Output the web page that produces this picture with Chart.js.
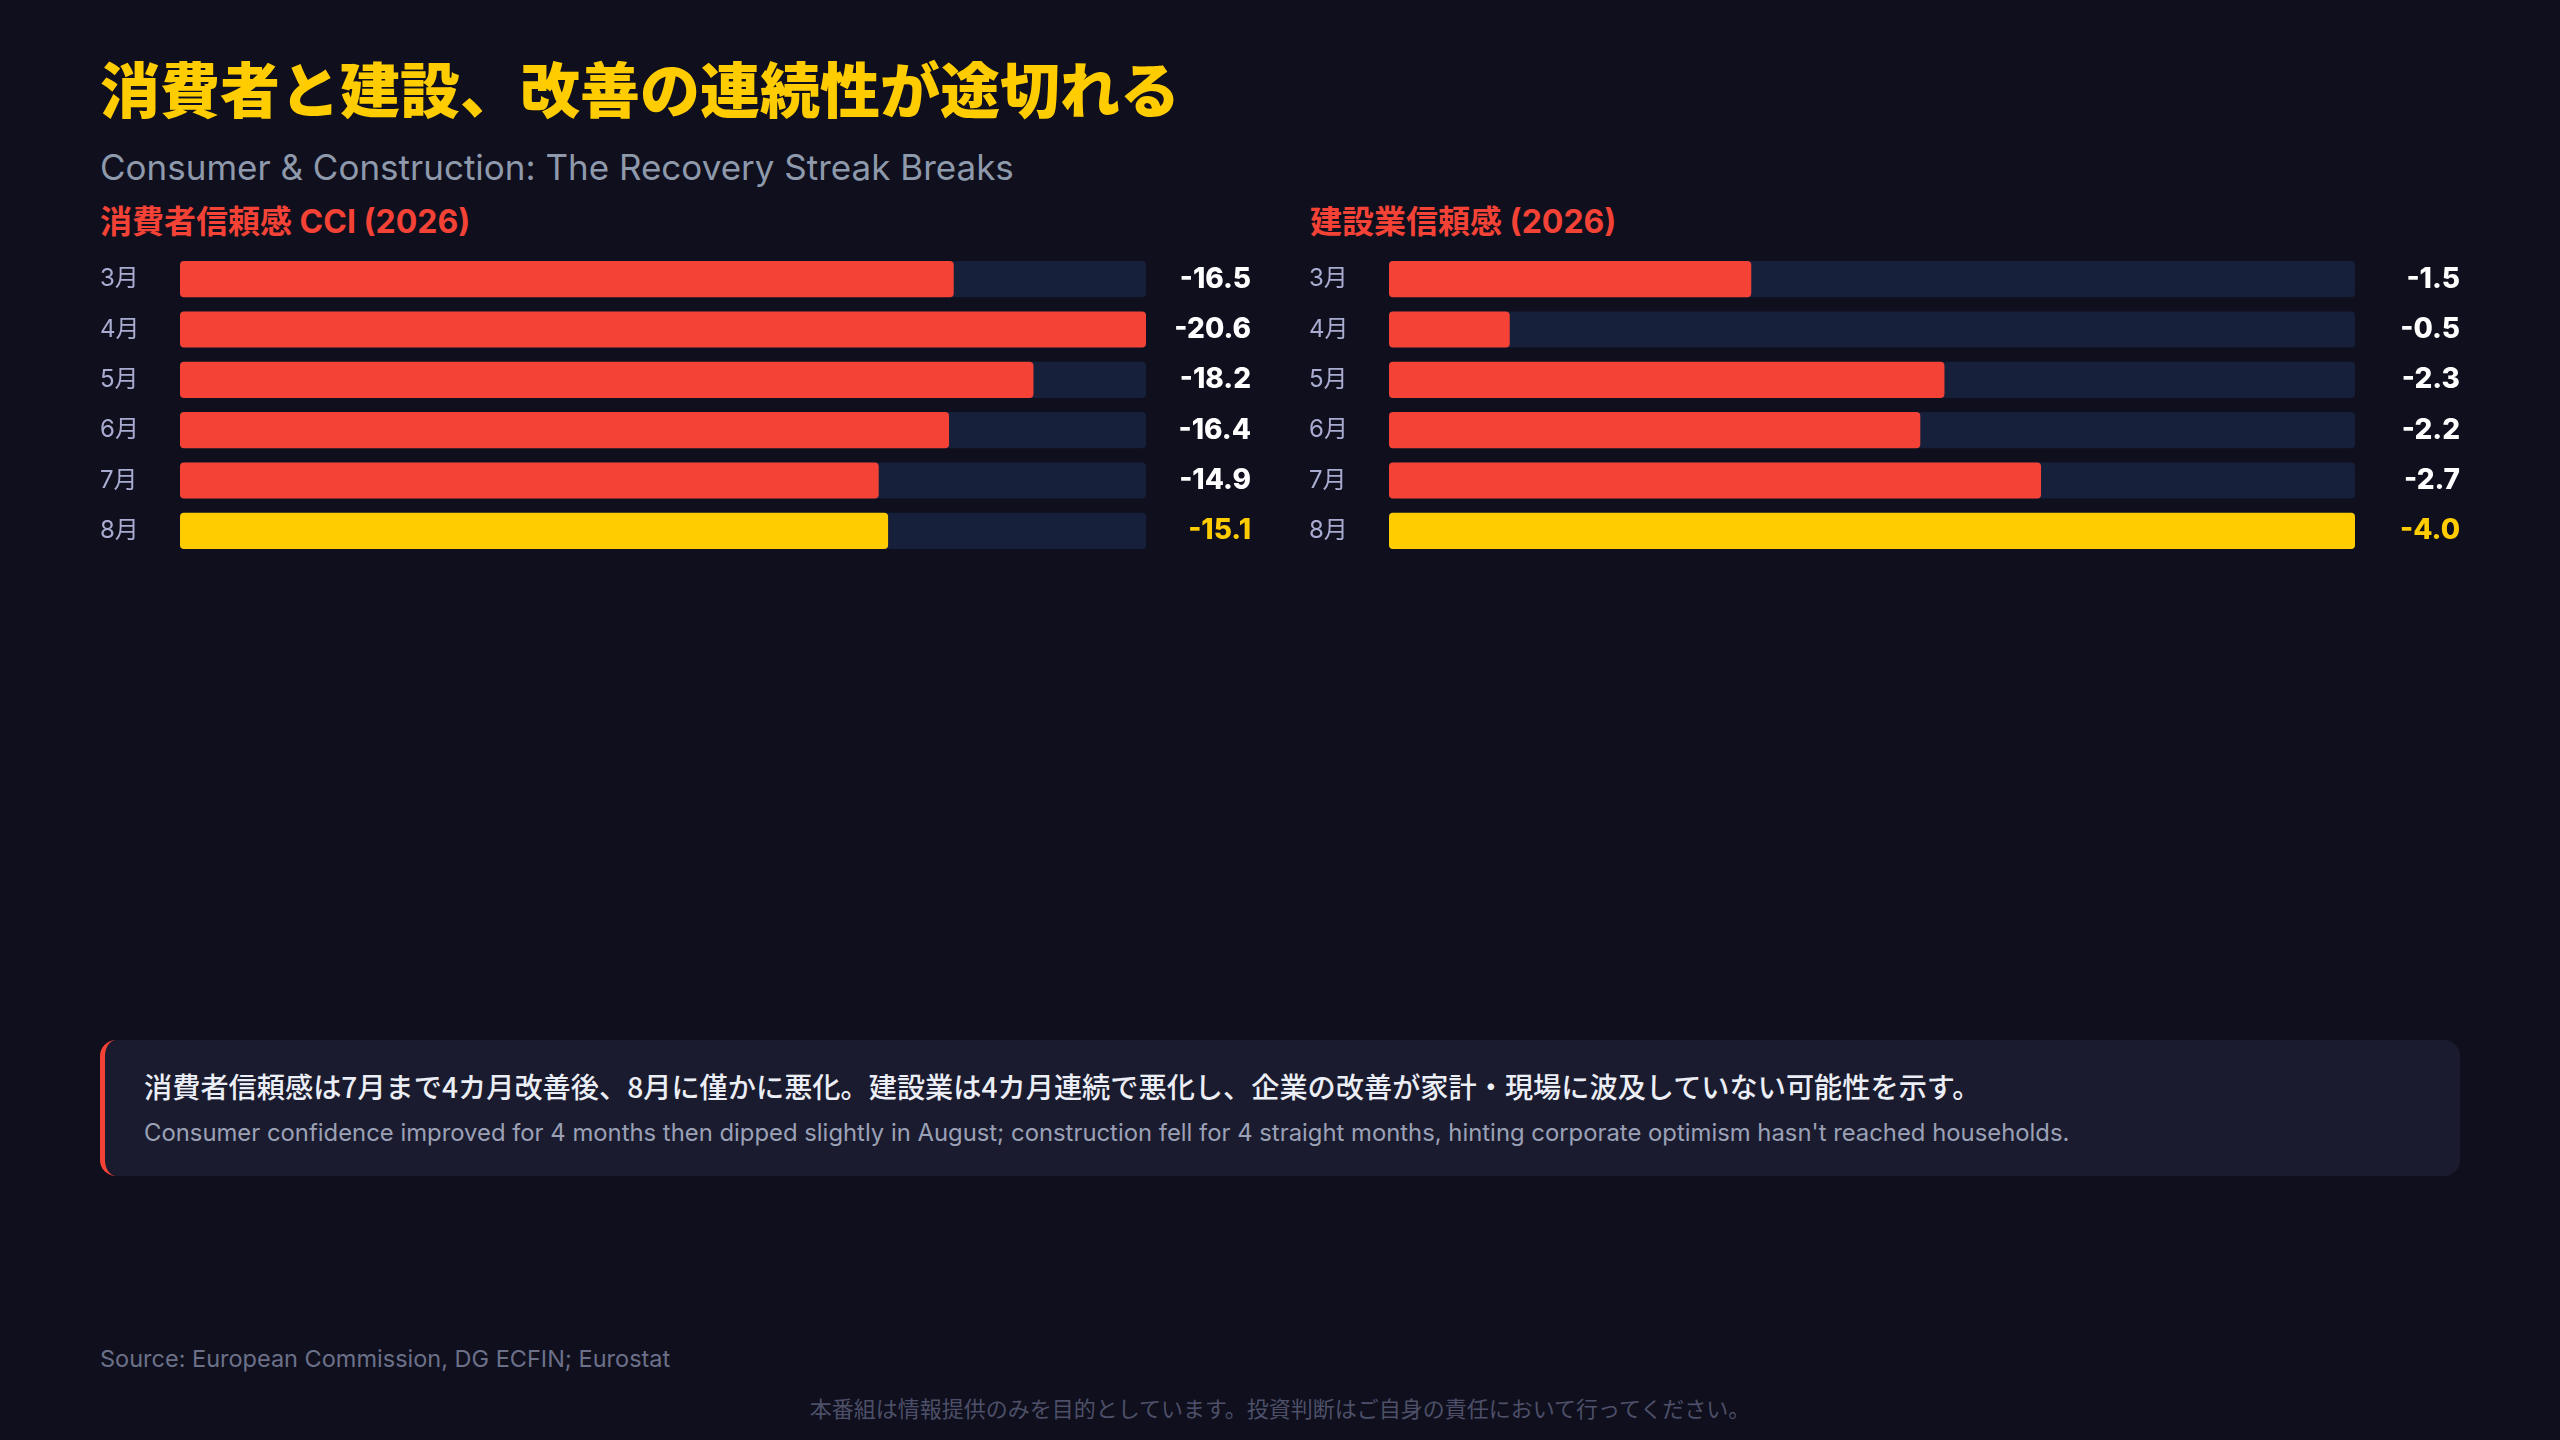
<!DOCTYPE html>
<html lang="ja">
<head>
<meta charset="utf-8">
<title>消費者と建設、改善の連続性が途切れる</title>
<script src="https://cdn.jsdelivr.net/npm/chart.js@4.4.1/dist/chart.umd.min.js"></script>
<style>
  html, body { margin: 0; padding: 0; }
  body {
    width: 2560px; height: 1440px; position: relative; overflow: hidden;
    background: #0f0f1d;
    font-family: Inter, "Noto Sans CJK JP", sans-serif;
  }
  .abs { position: absolute; white-space: nowrap; }
  #title { left: 100px; top: 55px; font-size: 60px; line-height: 64px; font-weight: 900; color: #ffcc00; font-family: "Noto Sans CJK JP", sans-serif; }
  #subtitle { left: 100px; top: 147px; font-size: 35px; line-height: 40px; color: #8e99ab; }
  .heading { top: 203px; font-size: 32px; line-height: 38px; font-weight: 700; color: #f44336; }
  #headLeft { left: 100px; }
  #headRight { left: 1310px; }
  canvas { position: absolute; }
  #note {
    position: absolute; left: 100px; top: 1040px; width: 2360px; height: 136px;
    background: #1a1b2e; border-radius: 16px; box-sizing: border-box;
    border-left: 5px solid #f44336;
  }
  #noteJa { left: 39px; top: 28px; font-size: 28.2px; line-height: 36px; font-weight: 500; color: #eceef6; font-family: "Noto Sans CJK JP", sans-serif; }
  #noteEn { left: 39px; top: 79px; font-size: 23.85px; line-height: 28px; color: #9aa1b6; }
  #source { left: 100px; top: 1345px; font-size: 23.5px; line-height: 28px; color: #6c7189; }
  #disclaimer { left: 0; width: 2560px; text-align: center; top: 1394px; font-size: 22px; line-height: 26px; color: #4d5068; font-family: "Noto Sans CJK JP", sans-serif; }
</style>
</head>
<body>
<div id="title" class="abs">消費者と建設、改善の連続性が途切れる</div>
<div id="subtitle" class="abs">Consumer &amp; Construction: The Recovery Streak Breaks</div>
<div id="headLeft" class="abs heading">消費者信頼感 CCI (2026)</div>
<div id="headRight" class="abs heading">建設業信頼感 (2026)</div>

<canvas id="cciChart" width="1151" height="302" style="left:100px; top:254px;"></canvas>
<canvas id="constructionChart" width="1151" height="302" style="left:1309px; top:254px;"></canvas>

<div id="note">
  <div id="noteJa" class="abs">消費者信頼感は7月まで4カ月改善後、8月に僅かに悪化。建設業は4カ月連続で悪化し、企業の改善が家計・現場に波及していない可能性を示す。</div>
  <div id="noteEn" class="abs">Consumer confidence improved for 4 months then dipped slightly in August; construction fell for 4 straight months, hinting corporate optimism hasn't reached households.</div>
</div>

<div id="source" class="abs">Source: European Commission, DG ECFIN; Eurostat</div>
<div id="disclaimer" class="abs">本番組は情報提供のみを目的としています。投資判断はご自身の責任において行ってください。</div>

<script>
// data
const months = ['3月', '4月', '5月', '6月', '7月', '8月'];
const cciValues = [-16.5, -20.6, -18.2, -16.4, -14.9, -15.1];
const constructionValues = [-1.5, -0.5, -2.3, -2.2, -2.7, -4.0];

const RED = '#f44336';
const YELLOW = '#ffcc00';
const TRACK = '#16203b';
const FONT = "Inter, 'Noto Sans CJK JP', sans-serif";

// fixed axis widths, and no extra label padding above/below the rows
function fixWidth(w) {
    return scale => {
        scale.width = w;
        scale.paddingTop = 0;
        scale.paddingBottom = 0;
    };
}

function drawPanel(canvasId, values) {
    const mags = values.map(v => Math.abs(v));
    const maxMag = Math.max(...mags);
    const last = values.length - 1;
    const barColors = values.map((v, i) => i === last ? YELLOW : RED);

    const barStyle = {
        borderRadius: 4,
        borderSkipped: false,
        barPercentage: 0.72,
        categoryPercentage: 1,
        grouped: false
    };

    const ctx = document.getElementById(canvasId).getContext('2d');
    new Chart(ctx, {
        type: 'bar',
        data: {
            labels: months,
            datasets: [
                Object.assign({ data: mags, backgroundColor: barColors }, barStyle),
                Object.assign({ data: months.map(() => maxMag), backgroundColor: TRACK }, barStyle)
            ]
        },
        options: {
            indexAxis: 'y',
            responsive: false,
            animation: false,
            devicePixelRatio: 1,
            layout: { padding: 0 },
            plugins: {
                legend: { display: false },
                tooltip: { enabled: false }
            },
            scales: {
                x: { display: false, min: 0, max: maxMag },
                y: {
                    position: 'left',
                    offset: true,
                    grid: { display: false, drawTicks: false },
                    border: { display: false },
                    ticks: {
                        color: '#a9acd0',
                        font: { family: FONT, size: 24 },
                        crossAlign: 'far',
                        padding: 0
                    },
                    afterFit: fixWidth(80)
                },
                y2: {
                    type: 'category',
                    labels: values.map(v => v.toFixed(1)),
                    position: 'right',
                    offset: true,
                    grid: { display: false, drawTicks: false },
                    border: { display: false },
                    ticks: {
                        color: c => c.index === last ? YELLOW : '#ffffff',
                        font: { family: FONT, size: 28, weight: 800 },
                        crossAlign: 'far',
                        padding: 0
                    },
                    afterFit: fixWidth(105)
                }
            }
        }
    });
}

drawPanel('cciChart', cciValues);
drawPanel('constructionChart', constructionValues);
</script>
</body>
</html>
